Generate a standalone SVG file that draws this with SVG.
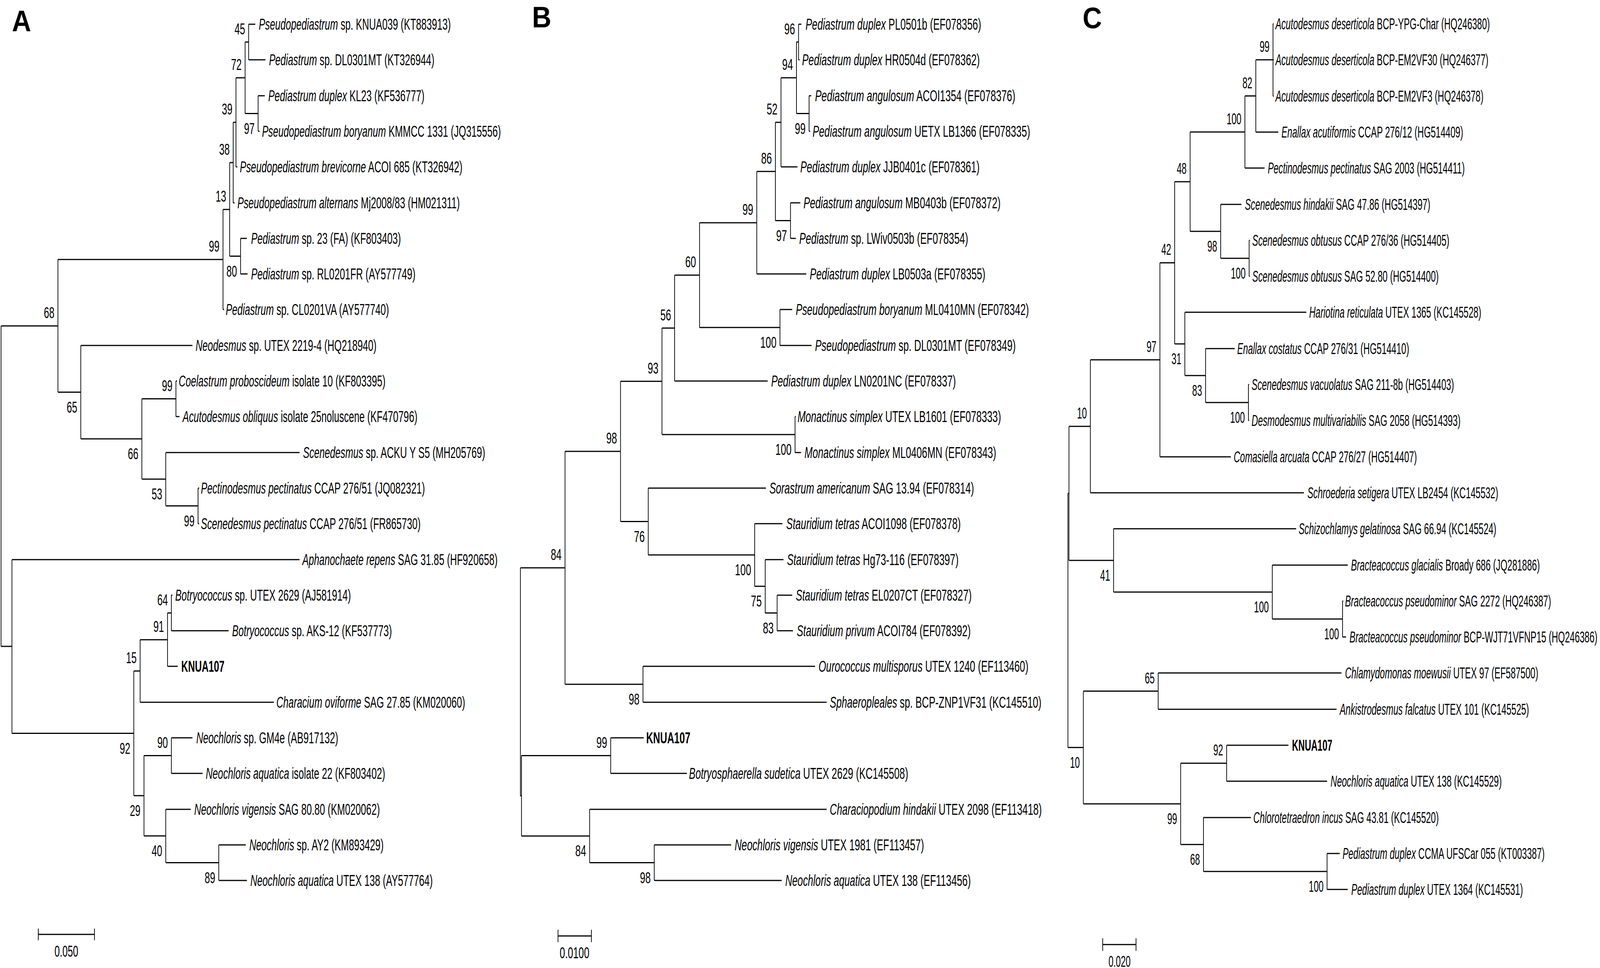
<svg xmlns="http://www.w3.org/2000/svg" width="4550" height="2477" viewBox="0 0 4550 2477">
<style>
text{font-family:"Liberation Sans",Arial,sans-serif;font-size:40px;fill:#000}
.i{font-style:italic}
.k{font-weight:bold}
.b{text-anchor:end}
.m{text-anchor:middle}
.p{font-size:76px;font-weight:bold}
.h{fill:none;stroke:#000;stroke-width:3}
.v{fill:none;stroke:#000;stroke-width:2}
</style>
<rect width="4550" height="2477" fill="#fff"/>
<g id="figure" transform="scale(0.899,1)">
<g id="connectors">
<path class="h" d="M698 107.5H708M698 290.5H735M672 199H698M664 313H672M654 416H664M654 655.5H685M635 536H654M165 664H635M404 1020.5H501M472 1294.5H564M404 1226H472M230 1123H404M165 1003.5H230M3 834H165M477 1568.5H488M399 1637H477M381 1717H399M410 1933.5H488M472 2207.5H623M410 2139H472M381 2036H410M34 1876.5H381M3 1654H34M708 62H727M708 153H756M735 245H754M735 336H739M672 427H676M664 519H668M685 610H703M685 701H705M635 792H638M230 884H548M501 975H504M501 1066H511M472 1158H853M564 1249H567M564 1340H567M34 1432H853M488 1523H491M488 1614H651M477 1705H506M399 1797H780M488 1888H548M488 1979H577M472 2071H543M623 2162H700M623 2253H703"/>
<path class="v" d="M708 62V153M735 245V336M698 107.5V290.5M672 199V427M664 313V519M685 610V701M654 416V655.5M635 536V792M501 975V1066M564 1249V1340M472 1158V1294.5M404 1020.5V1226M230 884V1123M165 664V1003.5M488 1523V1614M477 1568.5V1705M399 1637V1797M488 1888V1979M623 2162V2253M472 2071V2207.5M410 1933.5V2139M381 1717V2036M34 1432V1876.5M3 834V1654"/>
<path class="h" d="M2268 107.5H2274M2268 290.5H2304M2224 199H2268M2208 313H2224M2208 564.5H2251M2155 438.75H2208M1992 569.9H2155M1992 838H2221M1921 703.9H1992M1885 839.5H1921M1885 1112H2264M1767 975.7H1885M2179 1568.5H2213M2149 1500.25H2179M1846 1420.1H2149M1767 1334.6H1846M1609 1155.1H1767M1609 1751H1831M1482 1453H1609M1485 1933.5H1739M1679 2207.5H1863M1485 2139.25H1679M1482 2036.4H1485M2274 62H2282M2274 153H2277M2304 245H2310M2304 336H2307M2224 427H2271M2251 519H2279M2251 610H2266M2155 701H2296M2221 792H2256M2221 884H2311M1921 975H2186M2264 1066H2266M2264 1158H2281M1846 1249H2181M2149 1340H2228M2179 1432H2231M2213 1523H2256M2213 1614H2258M1831 1705H2321M1831 1797H2354M1739 1888H1833M1739 1979H1956M1679 2071H2354M1863 2162H2082M1863 2253H2226"/>
<path class="v" d="M2274 62V153M2304 245V336M2268 107.5V290.5M2224 199V427M2251 519V610M2208 313V564.5M2155 438.75V701M2221 792V884M1992 569.9V838M1921 703.9V975M2264 1066V1158M1885 839.5V1112M2213 1523V1614M2179 1432V1568.5M2149 1340V1500.25M1846 1249V1420.1M1767 975.7V1334.6M1831 1705V1797M1609 1155.1V1751M1739 1888V1979M1863 2162V2253M1679 2071V2207.5M1485 1933.5V2139.25M1482 1453V2036.4"/>
<path class="h" d="M3576 153H3625M3545 245.5H3576M3389 337.75H3545M3476 661H3557M3389 592H3476M3345 464.9H3389M3433 1030H3555M3374 961H3433M3345 880H3374M3303 672.4H3345M3105 920.7H3303M3044 1090.9H3105M3623 1584H3823M3171 1515H3623M3044 1434H3171M3041 1262.4H3044M3085 1768.5H3298M3362 1953H3493M3427 2230H3779M3362 2161H3427M3085 2057H3362M3041 1912.75H3085M3625 61H3627M3625 153H3627M3625 246H3627M3576 338H3640M3545 430H3601M3476 523H3535M3557 615H3559M3557 707H3559M3374 799H3720M3433 892H3516M3555 984H3557M3555 1076H3557M3303 1169H3505M3105 1261H3713M3171 1353H3691M3623 1446H3838M3823 1538H3825M3823 1630H3833M3298 1722H3820M3298 1815H3806M3493 1907H3669M3493 1999H3779M3427 2092H3562M3779 2184H3815M3779 2276H3838"/>
<path class="v" d="M3625 61V246M3576 153V338M3545 245.5V430M3557 615V707M3476 523V661M3389 337.75V592M3555 984V1076M3433 892V1030M3374 799V961M3345 464.9V880M3303 672.4V1169M3105 920.7V1261M3823 1538V1630M3623 1446V1584M3171 1353V1515M3044 1090.9V1434M3298 1722V1815M3493 1907V1999M3779 2184V2276M3427 2092V2230M3362 1953V2161M3085 1768.5V2057M3041 1262.4V1912.75"/>
</g>
<g id="scalebars">
<path class="h" d="M109 2391H269M1589 2395H1684M3140 2417H3235"/>
<path class="v" d="M109 2376V2406M269 2376V2406M1589 2379V2411M1684 2379V2411M3140 2401V2433M3235 2401V2433"/>
<text class="m" transform="translate(189,2448) scale(.676,1)">0.050</text>
<text class="m" transform="translate(1636,2452) scale(.69,1)">0.0100</text>
<text class="m" transform="translate(3188,2474) scale(.63,1)">0.020</text>
</g>
<g id="panel-labels">
<text class="p" x="34" y="80">A</text>
<text class="p" x="1515" y="70">B</text>
<text class="p" x="3083" y="72">C</text>
</g>
<g id="treeA">
<g id="A-L0"><text transform="translate(737,76) scale(.676,1)"><tspan class="i">Pseudopediastrum</tspan> sp. KNUA039 (KT883913)</text></g>
<g id="A-L1"><text transform="translate(766,167) scale(.676,1)"><tspan class="i">Pediastrum</tspan> sp. DL0301MT (KT326944)</text></g>
<g id="A-L2"><text transform="translate(764,259) scale(.676,1)"><tspan class="i">Pediastrum duplex</tspan> KL23 (KF536777)</text></g>
<g id="A-L3"><text transform="translate(746,350) scale(.676,1)"><tspan class="i">Pseudopediastrum boryanum</tspan> KMMCC 1331 (JQ315556)</text></g>
<g id="A-L4"><text transform="translate(683,441) scale(.676,1)"><tspan class="i">Pseudopediastrum brevicorne</tspan> ACOI 685 (KT326942)</text></g>
<g id="A-L5"><text transform="translate(676,533) scale(.676,1)"><tspan class="i">Pseudopediastrum alternans</tspan> Mj2008/83 (HM021311)</text></g>
<g id="A-L6"><text transform="translate(715,624) scale(.676,1)"><tspan class="i">Pediastrum</tspan> sp. 23 (FA) (KF803403)</text></g>
<g id="A-L7"><text transform="translate(715,715) scale(.676,1)"><tspan class="i">Pediastrum</tspan> sp. RL0201FR (AY577749)</text></g>
<g id="A-L8"><text transform="translate(643,806) scale(.676,1)"><tspan class="i">Pediastrum</tspan> sp. CL0201VA (AY577740)</text></g>
<g id="A-L9"><text transform="translate(557,898) scale(.676,1)"><tspan class="i">Neodesmus</tspan> sp. UTEX 2219-4 (HQ218940)</text></g>
<g id="A-L10"><text transform="translate(509,989) scale(.676,1)"><tspan class="i">Coelastrum proboscideum</tspan> isolate 10 (KF803395)</text></g>
<g id="A-L11"><text transform="translate(520,1080) scale(.676,1)"><tspan class="i">Acutodesmus obliquus</tspan> isolate 25noluscene (KF470796)</text></g>
<g id="A-L12"><text transform="translate(863,1172) scale(.676,1)"><tspan class="i">Scenedesmus</tspan> sp. ACKU Y S5 (MH205769)</text></g>
<g id="A-L13"><text transform="translate(572,1263) scale(.676,1)"><tspan class="i">Pectinodesmus pectinatus</tspan> CCAP 276/51 (JQ082321)</text></g>
<g id="A-L14"><text transform="translate(572,1354) scale(.676,1)"><tspan class="i">Scenedesmus pectinatus</tspan> CCAP 276/51 (FR865730)</text></g>
<g id="A-L15"><text transform="translate(861,1446) scale(.676,1)"><tspan class="i">Aphanochaete repens</tspan> SAG 31.85 (HF920658)</text></g>
<g id="A-L16"><text transform="translate(499,1537) scale(.676,1)"><tspan class="i">Botryococcus</tspan> sp. UTEX 2629 (AJ581914)</text></g>
<g id="A-L17"><text transform="translate(661,1628) scale(.676,1)"><tspan class="i">Botryococcus</tspan> sp. AKS-12 (KF537773)</text></g>
<g id="A-L18"><text class="k" transform="translate(516,1719) scale(.676,1)">KNUA107</text></g>
<g id="A-L19"><text transform="translate(787,1811) scale(.676,1)"><tspan class="i">Characium oviforme</tspan> SAG 27.85 (KM020060)</text></g>
<g id="A-L20"><text transform="translate(559,1902) scale(.676,1)"><tspan class="i">Neochloris</tspan> sp. GM4e (AB917132)</text></g>
<g id="A-L21"><text transform="translate(586,1993) scale(.676,1)"><tspan class="i">Neochloris aquatica</tspan> isolate 22 (KF803402)</text></g>
<g id="A-L22"><text transform="translate(553,2085) scale(.676,1)"><tspan class="i">Neochloris vigensis</tspan> SAG 80.80 (KM020062)</text></g>
<g id="A-L23"><text transform="translate(710,2176) scale(.676,1)"><tspan class="i">Neochloris</tspan> sp. AY2 (KM893429)</text></g>
<g id="A-L24"><text transform="translate(713,2267) scale(.676,1)"><tspan class="i">Neochloris aquatica</tspan> UTEX 138 (AY577764)</text></g>
<g id="A-support">
<text class="b" transform="translate(698,87.5) scale(.676,1)">45</text>
<text class="b" transform="translate(688,179) scale(.676,1)">72</text>
<text class="b" transform="translate(725,342.5) scale(.676,1)">97</text>
<text class="b" transform="translate(662,293) scale(.676,1)">39</text>
<text class="b" transform="translate(654,396) scale(.676,1)">38</text>
<text class="b" transform="translate(644,516) scale(.676,1)">13</text>
<text class="b" transform="translate(675,707.5) scale(.676,1)">80</text>
<text class="b" transform="translate(625,644) scale(.676,1)">99</text>
<text class="b" transform="translate(155,814) scale(.676,1)">68</text>
<text class="b" transform="translate(220,1055.5) scale(.676,1)">65</text>
<text class="b" transform="translate(491,1000.5) scale(.676,1)">99</text>
<text class="b" transform="translate(394,1175) scale(.676,1)">66</text>
<text class="b" transform="translate(462,1278) scale(.676,1)">53</text>
<text class="b" transform="translate(554,1346.5) scale(.676,1)">99</text>
<text class="b" transform="translate(478,1548.5) scale(.676,1)">64</text>
<text class="b" transform="translate(467,1617) scale(.676,1)">91</text>
<text class="b" transform="translate(389,1697) scale(.676,1)">15</text>
<text class="b" transform="translate(371,1928.5) scale(.676,1)">92</text>
<text class="b" transform="translate(478,1913.5) scale(.676,1)">90</text>
<text class="b" transform="translate(400,2088) scale(.676,1)">29</text>
<text class="b" transform="translate(462,2191) scale(.676,1)">40</text>
<text class="b" transform="translate(613,2259.5) scale(.676,1)">89</text>
</g>
</g>
<g id="treeB">
<g id="B-L0"><text transform="translate(2294,76) scale(.69,1)"><tspan class="i">Pediastrum duplex</tspan> PL0501b (EF078356)</text></g>
<g id="B-L1"><text transform="translate(2284,167) scale(.69,1)"><tspan class="i">Pediastrum duplex</tspan> HR0504d (EF078362)</text></g>
<g id="B-L2"><text transform="translate(2321,259) scale(.69,1)"><tspan class="i">Pediastrum angulosum</tspan> ACOI1354 (EF078376)</text></g>
<g id="B-L3"><text transform="translate(2314,350) scale(.69,1)"><tspan class="i">Pediastrum angulosum</tspan> UETX LB1366 (EF078335)</text></g>
<g id="B-L4"><text transform="translate(2279,441) scale(.69,1)"><tspan class="i">Pediastrum duplex</tspan> JJB0401c (EF078361)</text></g>
<g id="B-L5"><text transform="translate(2288,533) scale(.69,1)"><tspan class="i">Pediastrum angulosum</tspan> MB0403b (EF078372)</text></g>
<g id="B-L6"><text transform="translate(2276,624) scale(.69,1)"><tspan class="i">Pediastrum</tspan> sp. LWiv0503b (EF078354)</text></g>
<g id="B-L7"><text transform="translate(2306,715) scale(.69,1)"><tspan class="i">Pediastrum duplex</tspan> LB0503a (EF078355)</text></g>
<g id="B-L8"><text transform="translate(2266,806) scale(.69,1)"><tspan class="i">Pseudopediastrum boryanum</tspan> ML0410MN (EF078342)</text></g>
<g id="B-L9"><text transform="translate(2321,898) scale(.69,1)"><tspan class="i">Pseudopediastrum</tspan> sp. DL0301MT (EF078349)</text></g>
<g id="B-L10"><text transform="translate(2196,989) scale(.69,1)"><tspan class="i">Pediastrum duplex</tspan> LN0201NC (EF078337)</text></g>
<g id="B-L11"><text transform="translate(2271,1080) scale(.69,1)"><tspan class="i">Monactinus simplex</tspan> UTEX LB1601 (EF078333)</text></g>
<g id="B-L12"><text transform="translate(2291,1172) scale(.69,1)"><tspan class="i">Monactinus simplex</tspan> ML0406MN (EF078343)</text></g>
<g id="B-L13"><text transform="translate(2191,1263) scale(.69,1)"><tspan class="i">Sorastrum americanum</tspan> SAG 13.94 (EF078314)</text></g>
<g id="B-L14"><text transform="translate(2239,1354) scale(.69,1)"><tspan class="i">Stauridium tetras</tspan> ACOI1098 (EF078378)</text></g>
<g id="B-L15"><text transform="translate(2241,1446) scale(.69,1)"><tspan class="i">Stauridium tetras</tspan> Hg73-116 (EF078397)</text></g>
<g id="B-L16"><text transform="translate(2266,1537) scale(.69,1)"><tspan class="i">Stauridium tetras</tspan> EL0207CT (EF078327)</text></g>
<g id="B-L17"><text transform="translate(2269,1628) scale(.69,1)"><tspan class="i">Stauridium privum</tspan> ACOI784 (EF078392)</text></g>
<g id="B-L18"><text transform="translate(2331,1719) scale(.69,1)"><tspan class="i">Ourococcus multisporus</tspan> UTEX 1240 (EF113460)</text></g>
<g id="B-L19"><text transform="translate(2363,1811) scale(.69,1)"><tspan class="i">Sphaeropleales</tspan> sp. BCP-ZNP1VF31 (KC145510)</text></g>
<g id="B-L20"><text class="k" transform="translate(1840,1902) scale(.69,1)">KNUA107</text></g>
<g id="B-L21"><text transform="translate(1962,1993) scale(.69,1)"><tspan class="i">Botryosphaerella sudetica</tspan> UTEX 2629 (KC145508)</text></g>
<g id="B-L22"><text transform="translate(2363,2085) scale(.69,1)"><tspan class="i">Characiopodium hindakii</tspan> UTEX 2098 (EF113418)</text></g>
<g id="B-L23"><text transform="translate(2092,2176) scale(.69,1)"><tspan class="i">Neochloris vigensis</tspan> UTEX 1981 (EF113457)</text></g>
<g id="B-L24"><text transform="translate(2236,2267) scale(.69,1)"><tspan class="i">Neochloris aquatica</tspan> UTEX 138 (EF113456)</text></g>
<g id="B-support">
<text class="b" transform="translate(2264,87.5) scale(.69,1)">96</text>
<text class="b" transform="translate(2258,179) scale(.69,1)">94</text>
<text class="b" transform="translate(2294,342.5) scale(.69,1)">99</text>
<text class="b" transform="translate(2214,293) scale(.69,1)">52</text>
<text class="b" transform="translate(2198,418.75) scale(.69,1)">86</text>
<text class="b" transform="translate(2241,616.5) scale(.69,1)">97</text>
<text class="b" transform="translate(2145,549.9) scale(.69,1)">99</text>
<text class="b" transform="translate(1982,683.9) scale(.69,1)">60</text>
<text class="b" transform="translate(2211,890) scale(.69,1)">100</text>
<text class="b" transform="translate(1911,819.5) scale(.69,1)">56</text>
<text class="b" transform="translate(2254,1164) scale(.69,1)">100</text>
<text class="b" transform="translate(1875,955.7) scale(.69,1)">93</text>
<text class="b" transform="translate(1757,1135.1) scale(.69,1)">98</text>
<text class="b" transform="translate(1836,1386.6) scale(.69,1)">76</text>
<text class="b" transform="translate(2139,1472.1) scale(.69,1)">100</text>
<text class="b" transform="translate(2169,1552.25) scale(.69,1)">75</text>
<text class="b" transform="translate(2203,1620.5) scale(.69,1)">83</text>
<text class="b" transform="translate(1599,1433) scale(.69,1)">84</text>
<text class="b" transform="translate(1821,1803) scale(.69,1)">98</text>
<text class="b" transform="translate(1729,1913.5) scale(.69,1)">99</text>
<text class="b" transform="translate(1669,2191.25) scale(.69,1)">84</text>
<text class="b" transform="translate(1853,2259.5) scale(.69,1)">98</text>
</g>
</g>
<g id="treeC">
<g id="C-L0"><text transform="translate(3632,75) scale(.63,1)"><tspan class="i">Acutodesmus deserticola</tspan> BCP-YPG-Char (HQ246380)</text></g>
<g id="C-L1"><text transform="translate(3632,167) scale(.63,1)"><tspan class="i">Acutodesmus deserticola</tspan> BCP-EM2VF30 (HQ246377)</text></g>
<g id="C-L2"><text transform="translate(3632,260) scale(.63,1)"><tspan class="i">Acutodesmus deserticola</tspan> BCP-EM2VF3 (HQ246378)</text></g>
<g id="C-L3"><text transform="translate(3649,352) scale(.63,1)"><tspan class="i">Enallax acutiformis</tspan> CCAP 276/12 (HG514409)</text></g>
<g id="C-L4"><text transform="translate(3610,444) scale(.63,1)"><tspan class="i">Pectinodesmus pectinatus</tspan> SAG 2003 (HG514411)</text></g>
<g id="C-L5"><text transform="translate(3545,537) scale(.63,1)"><tspan class="i">Scenedesmus hindakii</tspan> SAG 47.86 (HG514397)</text></g>
<g id="C-L6"><text transform="translate(3566,629) scale(.63,1)"><tspan class="i">Scenedesmus obtusus</tspan> CCAP 276/36 (HG514405)</text></g>
<g id="C-L7"><text transform="translate(3566,721) scale(.63,1)"><tspan class="i">Scenedesmus obtusus</tspan> SAG 52.80 (HG514400)</text></g>
<g id="C-L8"><text transform="translate(3728,813) scale(.63,1)"><tspan class="i">Hariotina reticulata</tspan> UTEX 1365 (KC145528)</text></g>
<g id="C-L9"><text transform="translate(3523,906) scale(.63,1)"><tspan class="i">Enallax costatus</tspan> CCAP 276/31 (HG514410)</text></g>
<g id="C-L10"><text transform="translate(3564,998) scale(.63,1)"><tspan class="i">Scenedesmus vacuolatus</tspan> SAG 211-8b (HG514403)</text></g>
<g id="C-L11"><text transform="translate(3564,1090) scale(.63,1)"><tspan class="i">Desmodesmus multivariabilis</tspan> SAG 2058 (HG514393)</text></g>
<g id="C-L12"><text transform="translate(3513,1183) scale(.63,1)"><tspan class="i">Comasiella arcuata</tspan> CCAP 276/27 (HG514407)</text></g>
<g id="C-L13"><text transform="translate(3723,1275) scale(.63,1)"><tspan class="i">Schroederia setigera</tspan> UTEX LB2454 (KC145532)</text></g>
<g id="C-L14"><text transform="translate(3698,1367) scale(.63,1)"><tspan class="i">Schizochlamys gelatinosa</tspan> SAG 66.94 (KC145524)</text></g>
<g id="C-L15"><text transform="translate(3847,1460) scale(.63,1)"><tspan class="i">Bracteacoccus glacialis</tspan> Broady 686 (JQ281886)</text></g>
<g id="C-L16"><text transform="translate(3830,1552) scale(.63,1)"><tspan class="i">Bracteacoccus pseudominor</tspan> SAG 2272 (HQ246387)</text></g>
<g id="C-L17"><text transform="translate(3843,1644) scale(.63,1)"><tspan class="i">Bracteacoccus pseudominor</tspan> BCP-WJT71VFNP15 (HQ246386)</text></g>
<g id="C-L18"><text transform="translate(3830,1736) scale(.63,1)"><tspan class="i">Chlamydomonas moewusii</tspan> UTEX 97 (EF587500)</text></g>
<g id="C-L19"><text transform="translate(3815,1829) scale(.63,1)"><tspan class="i">Ankistrodesmus falcatus</tspan> UTEX 101 (KC145525)</text></g>
<g id="C-L20"><text class="k" transform="translate(3679,1921) scale(.63,1)">KNUA107</text></g>
<g id="C-L21"><text transform="translate(3789,2013) scale(.63,1)"><tspan class="i">Neochloris aquatica</tspan> UTEX 138 (KC145529)</text></g>
<g id="C-L22"><text transform="translate(3569,2106) scale(.63,1)"><tspan class="i">Chlorotetraedron incus</tspan> SAG 43.81 (KC145520)</text></g>
<g id="C-L23"><text transform="translate(3823,2198) scale(.63,1)"><tspan class="i">Pediastrum duplex</tspan> CCMA UFSCar 055 (KT003387)</text></g>
<g id="C-L24"><text transform="translate(3848,2290) scale(.63,1)"><tspan class="i">Pediastrum duplex</tspan> UTEX 1364 (KC145531)</text></g>
<g id="C-support">
<text class="b" transform="translate(3615,133) scale(.63,1)">99</text>
<text class="b" transform="translate(3566,225.5) scale(.63,1)">82</text>
<text class="b" transform="translate(3535,317.75) scale(.63,1)">100</text>
<text class="b" transform="translate(3379,444.9) scale(.63,1)">48</text>
<text class="b" transform="translate(3466,644) scale(.63,1)">98</text>
<text class="b" transform="translate(3547,713) scale(.63,1)">100</text>
<text class="b" transform="translate(3335,652.4) scale(.63,1)">42</text>
<text class="b" transform="translate(3364,932) scale(.63,1)">31</text>
<text class="b" transform="translate(3423,1013) scale(.63,1)">83</text>
<text class="b" transform="translate(3545,1082) scale(.63,1)">100</text>
<text class="b" transform="translate(3293,900.7) scale(.63,1)">97</text>
<text class="b" transform="translate(3095,1070.9) scale(.63,1)">10</text>
<text class="b" transform="translate(3161,1486) scale(.63,1)">41</text>
<text class="b" transform="translate(3613,1567) scale(.63,1)">100</text>
<text class="b" transform="translate(3813,1636) scale(.63,1)">100</text>
<text class="b" transform="translate(3288,1748.5) scale(.63,1)">65</text>
<text class="b" transform="translate(3075,1964.75) scale(.63,1)">10</text>
<text class="b" transform="translate(3483,1933) scale(.63,1)">92</text>
<text class="b" transform="translate(3352,2109) scale(.63,1)">99</text>
<text class="b" transform="translate(3417,2213) scale(.63,1)">68</text>
<text class="b" transform="translate(3769,2282) scale(.63,1)">100</text>
</g>
</g>
</g>
</svg>
